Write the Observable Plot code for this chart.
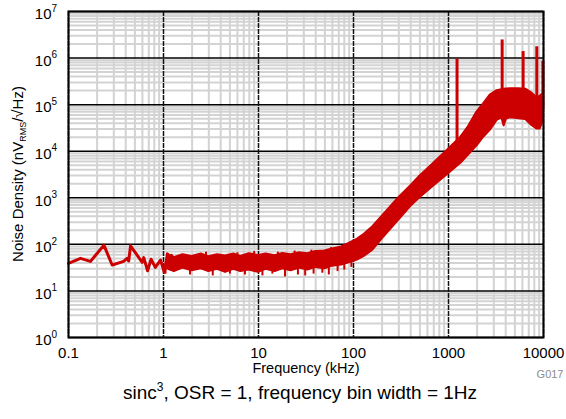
<!DOCTYPE html>
<html>
<head>
<meta charset="utf-8">
<script src="https://cdn.jsdelivr.net/npm/d3@7"></script>
<script src="https://cdn.jsdelivr.net/npm/@observablehq/plot@0.6"></script>
<style>
  html, body { margin: 0; padding: 0; background: #fff; }
  #wrap { width: 566px; height: 419px; position: relative; font-family: "Liberation Sans", Arial, sans-serif; }
  #caption { position: absolute; left: 0; top: 382px; width: 600px; text-align: center; font-size: 19px; line-height: 22px; color: #000; }
  #caption sup { font-size: 12px; vertical-align: 0; position: relative; top: -8px; }
</style>
</head>
<body>
<div id="wrap"><div id="chart"></div><div id="caption">sinc<sup>3</sup>, OSR = 1, frequency bin width = 1Hz</div></div>
<script>
// ---- axis ticks ----
const xTicks = [0.1, 1, 10, 100, 1000, 10000];
const xTickLabels = ["0.1", "1", "10", "100", "1000", "10000"];
const yTicks = [1, 10, 100, 1000, 1e4, 1e5, 1e6, 1e7];
const yExponents = ["0", "1", "2", "3", "4", "5", "6", "7"];
const minorMultipliers = [2, 3, 4, 5, 6, 7, 8, 9];

// ---- low-frequency trace (kHz, nV/rtHz) ----
const lowF = [0.1, 0.134, 0.17, 0.236, 0.288, 0.38, 0.414, 0.43, 0.45, 0.597, 0.62, 0.68, 0.74, 0.82, 0.93, 1.02, 1.1, 1.16, 1.22, 1.28];
const lowV = [39, 50, 43, 96, 36, 43, 50, 44, 93, 41, 52, 27, 48, 32, 46, 25, 62, 30, 58, 33];

// ---- dense noise band envelope (kHz, lower, upper) ----
const bandF  = [1.1, 1.3, 1.6, 2.0, 2.5, 3.0, 3.7, 4.5, 5.5, 6.5, 8, 10, 12, 15, 18, 22, 27, 33, 40, 50, 60, 75, 90, 110, 130, 160, 200, 300, 400, 500, 700, 1000, 1350, 1600, 2000, 2350, 2750, 3250, 3650, 3850, 4100, 4500, 5500, 6500, 7500, 8500, 9200, 9800, 10000];
const bandLo = [30, 26, 31, 27, 30, 26, 29, 25, 29, 26, 28, 25, 29, 26, 30, 27, 31, 28, 32, 30, 34, 36, 40, 46, 55, 75, 130, 330, 650, 1000, 1800, 3300, 5500, 8000, 13000, 20000, 28000, 46000, 52000, 35000, 50000, 52000, 50000, 48000, 36000, 30000, 30000, 40000, 45000];
const bandHi = [62, 52, 60, 55, 62, 54, 60, 56, 62, 55, 63, 58, 62, 57, 64, 60, 66, 63, 70, 72, 80, 88, 105, 130, 165, 240, 400, 1000, 1800, 2900, 5500, 11000, 20000, 32000, 70000, 105000, 160000, 200000, 210000, 215000, 218000, 220000, 220000, 215000, 180000, 140000, 150000, 170000, 160000];

// ---- downward noise dips and upward peaks ----
const dipF    = [1.05, 1.9, 3.3, 5, 7.2, 11, 14, 19, 26, 31, 38, 47, 55, 68, 80, 95];
const dipV    = [23, 22, 21, 23, 22, 21, 23, 20, 22, 21, 23, 24, 22, 26, 28, 32];
const dipFrom = [40, 40, 40, 40, 40, 40, 40, 40, 40, 40, 42, 42, 44, 46, 50, 55];
const peakF    = [2.8, 6, 9, 16, 24, 36, 58];
const peakV    = [68, 66, 70, 68, 72, 75, 85];
const peakFrom = [40, 40, 40, 40, 40, 42, 46];

// ---- tall spurs ----
const spurF    = [1230, 3670, 6100, 8500, 9850];
const spurTop  = [950000, 2450000, 1380000, 1750000, 850000];
const spurBase = [8000, 100000, 100000, 80000, 80000];

const red = "#cc0000";

const lowData = lowF.map((f, i) => ({f, v: lowV[i]}));
const bandData = bandF.map((f, i) => ({f, lo: bandLo[i], hi: bandHi[i]}));
const dipData = dipF.map((f, i) => ({f, v: dipV[i], b: dipFrom[i]}));
const peakData = peakF.map((f, i) => ({f, v: peakV[i], b: peakFrom[i]}));
const spurData = spurF.map((f, i) => ({f, top: spurTop[i], base: spurBase[i]}));
const xTickData = xTicks.map((v, i) => ({v, label: xTickLabels[i]}));
const yTickData = yTicks.map((v, i) => ({v, e: yExponents[i]}));
const minorX = xTicks.slice(0, -1).flatMap(d => minorMultipliers.map(m => d * m));
const minorY = yTicks.slice(0, -1).flatMap(d => minorMultipliers.map(m => d * m));

const chart = Plot.plot({
  width: 566,
  height: 380,
  marginLeft: 68,
  marginRight: 23,
  marginTop: 11,
  marginBottom: 43,
  x: {type: "log", domain: [0.1, 10000], axis: null},
  y: {type: "log", domain: [1, 1e7], axis: null},
  style: {fontFamily: "'Liberation Sans', Arial, sans-serif", background: "white", color: "black"},
  marks: [
    Plot.ruleX(minorX, {stroke: "#d3d3d3", strokeWidth: 2}),
    Plot.ruleY(minorY, {stroke: "#d3d3d3", strokeWidth: 2}),
    Plot.ruleY(yTicks, {stroke: "#000", strokeWidth: 1.5}),
    Plot.ruleX(xTicks, {stroke: "#111", strokeWidth: 1.5, strokeDasharray: "5,1"}),
    Plot.areaY(bandData, {x: "f", y1: "lo", y2: "hi", fill: red, stroke: red, strokeWidth: 2}),
    Plot.ruleX(dipData, {x: "f", y1: "v", y2: "b", stroke: red, strokeWidth: 2}),
    Plot.ruleX(peakData, {x: "f", y1: "b", y2: "v", stroke: red, strokeWidth: 2}),
    Plot.line(lowData, {x: "f", y: "v", stroke: red, strokeWidth: 3, strokeLinejoin: "round"}),
    Plot.ruleX(spurData, {x: "f", y1: "base", y2: "top", stroke: red, strokeWidth: 3}),
    Plot.frame({stroke: "#000", strokeWidth: 2}),
    Plot.text(xTickData, {x: "v", y: 1, text: "label", dy: 16, fontSize: 15, fill: "#000"}),
    Plot.text(yTickData, {x: 0.1, y: "v", text: () => "10", dx: -17, dy: 3, textAnchor: "end", fontSize: 15, fill: "#000"}),
    Plot.text(yTickData, {x: 0.1, y: "v", text: "e", dx: -17, dy: -3, textAnchor: "start", fontSize: 10, fill: "#000"}),
    Plot.text(["Frequency (kHz)"], {frameAnchor: "bottom", lineAnchor: "middle", dy: 31, fontSize: 14.5, fill: "#000"}),
    Plot.text(["G017"], {frameAnchor: "bottom-right", lineAnchor: "middle", dx: 20, dy: 37, textAnchor: "end", fontSize: 11, fill: "#8c8c8c"})
  ]
});

document.getElementById("chart").appendChild(chart);

// y-axis title with subscript
const svg = d3.select(chart);
const t = svg.append("text")
  .attr("transform", "translate(23,174) rotate(-90)")
  .attr("text-anchor", "middle")
  .attr("font-size", 15)
  .attr("font-family", "'Liberation Sans', Arial, sans-serif")
  .attr("fill", "#000");
t.append("tspan").text("Noise Density (nV");
t.append("tspan").attr("font-size", 9).attr("dy", 3).text("RMS");
t.append("tspan").attr("dy", -3).text("/\u221AHz)");
</script>
</body>
</html>
